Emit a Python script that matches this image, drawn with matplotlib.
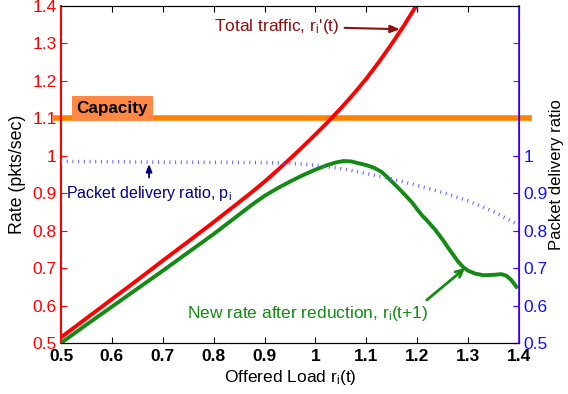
import numpy as np
import matplotlib
matplotlib.use("Agg")
import matplotlib.pyplot as plt
from matplotlib.ticker import FormatStrFormatter

plt.rcParams['font.family'] = ['Liberation Sans', 'DejaVu Sans']
plt.rcParams['mathtext.fontset'] = 'custom'
plt.rcParams['mathtext.rm'] = 'Liberation Sans'
plt.rcParams['mathtext.it'] = 'Liberation Sans'

# total traffic r_i'(t)
red_x = [0.5, 0.55, 0.6, 0.65, 0.7, 0.75, 0.8, 0.85, 0.875, 0.9, 0.925, 0.95, 0.975, 1.0,
         1.025, 1.05, 1.075, 1.1, 1.125, 1.15, 1.175, 1.2]
red_y = [0.515, 0.566, 0.617, 0.668, 0.720, 0.771, 0.823, 0.876, 0.903, 0.931, 0.961, 0.992, 1.024, 1.057,
         1.091, 1.127, 1.165, 1.206, 1.251, 1.299, 1.350, 1.405]

# new rate after reduction r_i(t+1)
green_x = [0.5, 0.55, 0.6, 0.65, 0.7, 0.75, 0.8, 0.85, 0.875, 0.9, 0.925, 0.95, 0.975, 1.0, 1.025,
           1.04, 1.055, 1.07, 1.085, 1.1, 1.115, 1.13, 1.145, 1.16, 1.175, 1.19, 1.2, 1.21, 1.22,
           1.235, 1.25, 1.26, 1.27, 1.28, 1.29, 1.30, 1.315, 1.33, 1.35, 1.365, 1.375, 1.385, 1.395]
green_y = [0.500, 0.549, 0.597, 0.645, 0.693, 0.742, 0.791, 0.843, 0.869, 0.893, 0.913, 0.931, 0.948, 0.963, 0.976,
           0.982, 0.986, 0.985, 0.980, 0.975, 0.968, 0.957, 0.938, 0.918, 0.897, 0.875, 0.857, 0.840, 0.826,
           0.803, 0.776, 0.756, 0.737, 0.718, 0.703, 0.693, 0.685, 0.681, 0.682, 0.684, 0.680, 0.668, 0.650]

# packet delivery ratio p_i (right axis)
blue_x = [0.5, 0.7, 0.9, 0.95, 1.0, 1.05, 1.1, 1.15, 1.2, 1.25, 1.3, 1.35, 1.4]
blue_y = [0.985, 0.983, 0.982, 0.980, 0.975, 0.966, 0.953, 0.938, 0.921, 0.902, 0.880, 0.851, 0.815]

capacity = 1.1
x_ticks = [0.5, 0.6, 0.7, 0.8, 0.9, 1.0, 1.1, 1.2, 1.3, 1.4]
left_ticks = [0.5, 0.6, 0.7, 0.8, 0.9, 1.0, 1.1, 1.2, 1.3, 1.4]
right_ticks = [0.5, 0.6, 0.7, 0.8, 0.9, 1.0]

fig = plt.figure(figsize=(5.68, 3.94), dpi=100)
ax = fig.add_axes([0.1074, 0.1294, 0.8063, 0.8554])
ax2 = ax.twinx()

ax.plot(red_x, red_y, color='#ff0000', lw=2.8, zorder=3, solid_joinstyle='round')
ax.plot(green_x, green_y, color='#138a13', lw=2.8, zorder=3, solid_joinstyle='round')
ax.plot([0.49, 1.42], [capacity, capacity], color='#ff8000', lw=4, clip_on=False, zorder=2)
ax2.plot(blue_x, blue_y, color='#6464ff', lw=2.6, ls=(0, (0.28, 1.3)))

ax.set_xlim(0.5, 1.4)
ax.set_ylim(0.5, 1.4)
ax2.set_ylim(0.5, 1.4)
ax.set_xticks(x_ticks)
ax.set_yticks(left_ticks)
ax2.set_yticks(right_ticks)
fmt = FormatStrFormatter('%g')
ax.xaxis.set_major_formatter(fmt)
ax.yaxis.set_major_formatter(fmt)
ax2.yaxis.set_major_formatter(fmt)

ax.tick_params(axis='x', direction='in', top=True, labelsize=12.5, pad=4, length=4)
for lab in ax.get_xticklabels():
    lab.set_fontweight('bold')
ax.tick_params(axis='y', direction='in', right=True, colors='#ff0000', labelsize=12.5, length=4, pad=3)
ax2.tick_params(axis='y', direction='in', colors='#4a00ff', labelcolor='#1010ff', labelsize=12.5, length=4, pad=3)
ax.spines['left'].set_color('#ff0000')
ax.spines['left'].set_linewidth(1.5)
ax2.spines['left'].set_visible(False)
ax2.spines['right'].set_color('#4a00ff')
ax2.spines['right'].set_linewidth(1.2)

ax.set_xlabel('Offered Load r$_\\mathregular{i}$(t)', fontsize=12.5, labelpad=3)
ax.set_ylabel('Rate (pkts/sec)', fontsize=12.8, labelpad=5)
ax2.set_ylabel('Packet delivery ratio', fontsize=12, labelpad=1.5)

ax.text(0.601, 1.127, 'Capacity', fontsize=12.3, fontweight='bold', ha='center', va='center',
        bbox=dict(boxstyle='square,pad=0.3', fc='#ff8844', ec='none'), zorder=4)

head = '-|>,head_length=0.45,head_width=0.18'
ax.annotate("Total traffic, r$_\\mathregular{i}$'(t)", xy=(1.166, 1.338), xytext=(0.80, 1.346),
            fontsize=12.5, color='#8c1010', va='center',
            arrowprops=dict(arrowstyle=head, color='#8c1010', lw=1.5, shrinkA=2, shrinkB=0))
ax.text(0.51, 0.900, 'Packet delivery ratio, p$_\\mathregular{i}$', fontsize=11.5, color='#000080', va='center')
ax.annotate('', xy=(0.673, 0.978), xytext=(0.673, 0.942),
            arrowprops=dict(arrowstyle=head, color='#000080', lw=1.3, shrinkA=0, shrinkB=0))
ax.text(0.748, 0.58, 'New rate after reduction, r$_\\mathregular{i}$(t+1)', fontsize=12.5,
        color='#138a13', va='center')
ax.annotate('', xy=(1.294, 0.70), xytext=(1.219, 0.615),
            arrowprops=dict(arrowstyle='->,head_length=0.5,head_width=0.25', color='#138a13', lw=2,
                            shrinkA=0, shrinkB=0))

fig.savefig('out.png', dpi=100)
